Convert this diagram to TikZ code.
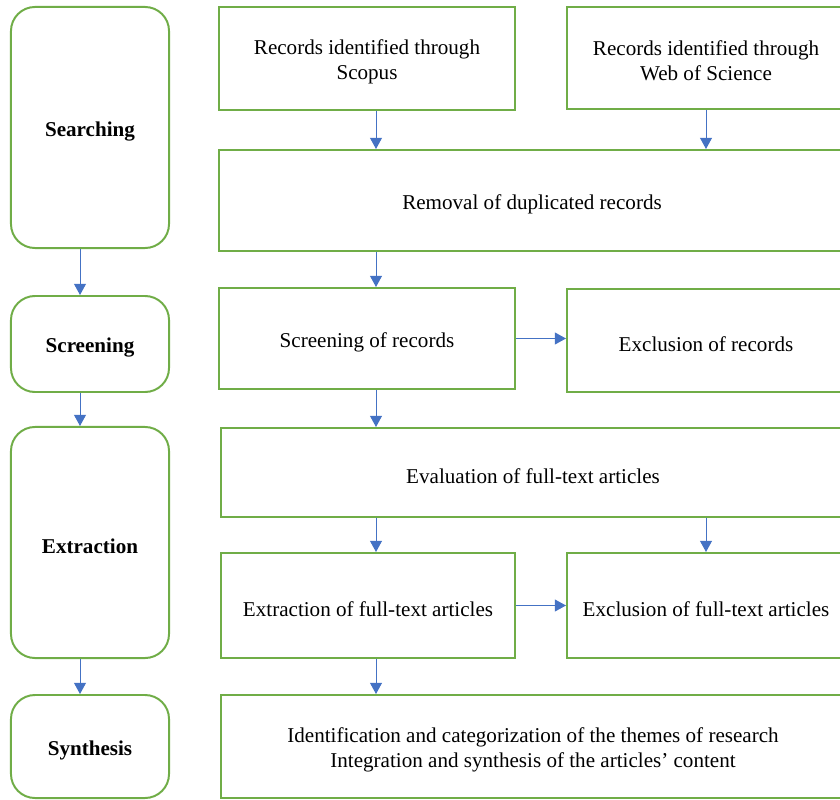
\documentclass[tikz,border=0pt]{standalone}
\usepackage{fontspec}
\setmainfont{Liberation Serif}
\usetikzlibrary{arrows.meta}
\definecolor{boxgreen}{HTML}{70AD47}
\definecolor{arrowblue}{HTML}{4472C4}

\begin{document}
\begin{tikzpicture}[x=0.025cm,y=-0.025cm,
  stagebox/.style={draw=boxgreen,line width=1.4pt,rounded corners=0.6cm,minimum width=3.95cm,inner sep=0pt,text height=15.5pt,align=center,font=\fontsize{15}{17.8}\selectfont\bfseries},
  stepbox/.style={draw=boxgreen,line width=1.4pt,inner sep=0pt,text height=15.5pt,align=center,font=\fontsize{15}{17.8}\selectfont},
  twoline/.style={text height=32.5pt},
  flow/.style={draw=arrowblue,line width=0.7pt,-{Triangle[length=0.28cm,width=0.3cm]}}]
\clip (0,0) rectangle (840,800);
% stages on the left
\node[stagebox,minimum height=6.025cm] (searching) at (90,127.5) {Searching};
\node[stagebox,minimum height=2.4cm] (screening) at (90,344) {Screening};
\node[stagebox,minimum height=5.775cm] (extraction) at (90,542.5) {Extraction};
\node[stagebox,minimum height=2.575cm] (synthesis) at (90,746.5) {Synthesis};
% steps on the right
\node[stepbox,twoline,minimum width=7.4cm,minimum height=2.575cm] (scopus) at (367,58.5) {Records identified through\\Scopus};
\node[stepbox,twoline,minimum width=6.95cm,minimum height=2.55cm] (wos) at (706,58) {Records identified through\\Web of Science};
\node[stepbox,minimum width=15.65cm,minimum height=2.525cm] (removal) at (532,200.5) {Removal of duplicated records};
\node[stepbox,minimum width=7.4cm,minimum height=2.525cm] (screenrec) at (367,338.5) {Screening of records};
\node[stepbox,minimum width=6.95cm,minimum height=2.575cm] (exclrec) at (706,340.5) {Exclusion of records};
\node[stepbox,minimum width=15.6cm,minimum height=2.225cm] (evaluation) at (533,472.5) {Evaluation of full-text articles};
\node[stepbox,minimum width=7.35cm,minimum height=2.625cm] (extrfull) at (368,605.5) {Extraction of full-text articles};
\node[stepbox,minimum width=6.95cm,minimum height=2.625cm] (exclfull) at (706,605.5) {Exclusion of full-text articles};
\node[stepbox,twoline,minimum width=15.6cm,minimum height=2.575cm] (ident) at (533,746.5) {Identification and categorization of the themes of research\\Integration and synthesis of the articles’ content};
% arrow columns
\coordinate (colL) at (80,0);
\coordinate (colA) at (376,0);
\coordinate (colB) at (706,0);
\draw[flow] (searching.south -| colL) -- (screening.north -| colL);
\draw[flow] (screening.south -| colL) -- (extraction.north -| colL);
\draw[flow] (extraction.south -| colL) -- (synthesis.north -| colL);
\draw[flow] (scopus.south -| colA) -- (removal.north -| colA);
\draw[flow] (wos.south -| colB) -- (removal.north -| colB);
\draw[flow] (removal.south -| colA) -- (screenrec.north -| colA);
\draw[flow] (screenrec.east) -- (screenrec.east -| exclrec.west);
\draw[flow] (screenrec.south -| colA) -- (evaluation.north -| colA);
\draw[flow] (evaluation.south -| colA) -- (extrfull.north -| colA);
\draw[flow] (evaluation.south -| colB) -- (exclfull.north -| colB);
\draw[flow] (extrfull.east) -- (extrfull.east -| exclfull.west);
\draw[flow] (extrfull.south -| colA) -- (ident.north -| colA);
\end{tikzpicture}
\end{document}
